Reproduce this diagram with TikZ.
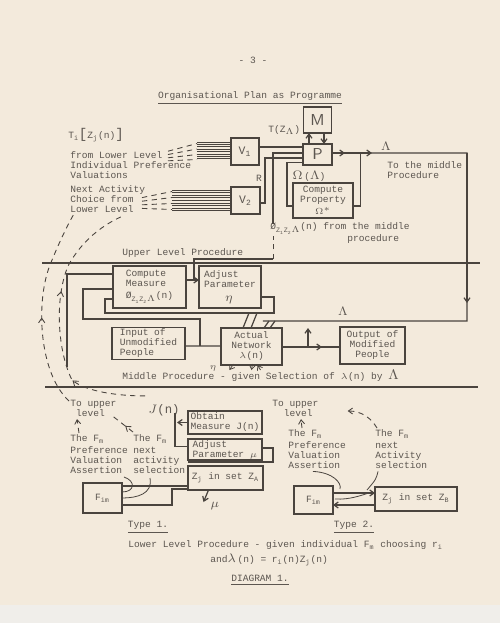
\documentclass[tikz,border=0pt]{standalone}
\usepackage{fontspec}
\setmainfont{Liberation Mono}
\usepackage{tikz}
\usetikzlibrary{calc}
\usetikzlibrary{arrows.meta,decorations.markings}
\definecolor{paper}{RGB}{243,234,220}
\definecolor{scanedge}{RGB}{240,238,234}
\definecolor{ink}{RGB}{74,68,62}
\definecolor{typed}{RGB}{92,86,80}
\newcommand{\subt}[1]{\textsubscript{#1}}
\newcommand{\hand}[1]{{\fontsize{7}{7}\selectfont$#1$}}

\begin{document}
\begin{tikzpicture}[x=0.02cm,y=-0.02cm,>=Stealth, every node/.style={font=\fontsize{5.45}{5.7}\selectfont,text=typed,inner sep=0pt}]
    \tikzset{box/.style={draw=ink,line width=0.8pt,outer sep=0pt,align=center}}
    \tikzset{wire/.style={draw=ink,line width=0.7pt}}
    \tikzset{fine/.style={draw=ink,line width=0.45pt}}
    \tikzset{dashline/.style={draw=ink,line width=0.5pt,dash pattern=on 3pt off 2.5pt}}
    \tikzset{arrowend/.style={-{Straight Barb[length=2.4pt,width=3.4pt]}}}
    \tikzset{midtip/.style={postaction={decorate,decoration={markings,mark=at position #1 with {\arrow{Straight Barb[length=2.6pt,width=3.6pt]}}}}}}
    \tikzset{txt/.style={anchor=north west,align=left}}

    % paper
    \fill[paper] (0,0) rectangle (500,605);
    \fill[scanedge] (0,605) rectangle (500,623);
    \useasboundingbox (0,0) rectangle (500,623);

    % heading
    \node (page) at (253,60) {- 3 -};
    \node (title) at (250,98) {\underline{Organisational Plan as Programme}};

    % Upper level: texts, boxes
    \node[anchor=west] (tval) at (68,135) {T\subt{i}{\fontsize{8}{8}\selectfont[}Z\subt{j}(n){\fontsize{8}{8}\selectfont]}};
    \node[txt] (lowval) at (70,151) {from Lower Level\\Individual Preference\\Valuations};
    \node[txt] (lowact) at (70,185) {Next Activity\\Choice from\\Lower Level};
    \node[box,minimum width=0.56cm,minimum height=0.54cm,font=\fontsize{6.5}{6.5}\selectfont] (v1) at (245,151.5) {V\subt{1}};
    \node[box,minimum width=0.58cm,minimum height=0.54cm,font=\fontsize{6.5}{6.5}\selectfont] (v2) at (245.5,200.5) {V\subt{2}};
    \node[box,minimum width=0.56cm,minimum height=0.52cm,font=\sffamily\fontsize{9}{9}\selectfont] (m) at (317.5,120) {M};
    \node[box,minimum width=0.58cm,minimum height=0.42cm,font=\sffamily\fontsize{9}{9}\selectfont] (p) at (317.5,154.5) {P};
    \node[box,minimum width=1.2cm,minimum height=0.7cm] (cprop) at (323,200.5) {Compute\\Property\\[1pt]$\Omega^{*}$};
    \node[anchor=west] (tz) at (268,130) {T(Z\subt{$\Lambda$})};
    \node (rmark) at (259,178) {R};
    \node (omlab) at (309,176) {\hand{\Omega}\,(\hand{\Lambda})};
    \node (lamtop) at (386,146) {\hand{\Lambda}};
    \node[txt] (tomid) at (387,161) {To the middle\\Procedure};
    \node[anchor=west] (phitxt) at (270,228.5) {Ø\subt{Z\subt{1}Z\subt{2}$\Lambda$}(n) from the middle};
    \node[anchor=west] (proc) at (347,239) {procedure};

    % Middle level
    \node[anchor=west] (upper) at (122,253) {Upper Level Procedure};
    \node[box,align=left,minimum width=1.46cm,minimum height=0.84cm] (cm) at (149.5,287) {Compute\\Measure\\[1pt]Ø\subt{Z\subt{1}Z\subt{2}$\Lambda$}(n)};
    \node[box,align=left,minimum width=1.24cm,minimum height=0.84cm] (adj) at (230,287) {Adjust\\Parameter\\[2pt]\hspace*{2.2em}{\fontsize{7}{7}\selectfont$\eta$}};
    \node[box,align=left,minimum width=1.46cm,minimum height=0.64cm] (inp) at (148.5,343.5) {Input of\\Unmodified\\People};
    \node[box,minimum width=1.22cm,minimum height=0.74cm] (net) at (251.5,346.5) {Actual\\Network\\$\lambda$(n)};
    \node[box,minimum width=1.3cm,minimum height=0.74cm] (outp) at (372.5,345.5) {Output of\\Modified\\People};
    \node (lammid) at (343,311) {\hand{\Lambda}};
    \node (etamark) at (213,368) {$\eta$};
    \node[anchor=west] (midproc) at (122,376) {Middle Procedure - given Selection of $\lambda$(n) by {\fontsize{8.5}{8.5}\selectfont$\Lambda$}};

    % Lower level, type 1
    \node[box,align=left,minimum width=1.48cm,minimum height=0.46cm] (obt) at (225,422.5) {Obtain\\Measure J(n)};
    \node[box,align=left,minimum width=1.48cm,minimum height=0.42cm] (adjmu) at (225,449.5) {Adjust\\Parameter $\mu$};
    \node[box,minimum width=1.5cm,minimum height=0.48cm] (za) at (225.5,478) {Z\subt{j} in set Z\subt{A}};
    \node[box,minimum width=0.78cm,minimum height=0.6cm] (fim1) at (102.5,498) {F\subt{im}};
    \node (jmark) at (164,410) {{\fontsize{7}{7}\selectfont$J$(n)}};
    \node (mumark) at (215,506) {\hand{\mu}};
    \node[txt] (up1) at (70,400) {To upper\\\hspace*{0.6em}level};
    \node[txt] (val1) at (70,434) {The F\subt{m}\\[1.5pt]Preference\\Valuation\\Assertion};
    \node[txt] (nxt1) at (133,434) {The F\subt{m}\\[1.5pt]next\\activity\\selection};
    \node (type1) at (148,527) {\underline{Type 1.}};

    % Lower level, type 2
    \node[box,minimum width=0.78cm,minimum height=0.56cm] (fim2) at (313.5,500) {F\subt{im}};
    \node[box,minimum width=1.64cm,minimum height=0.48cm] (zb) at (416,499) {Z\subt{j} in set Z\subt{B}};
    \node[txt] (up2) at (272,400) {To upper\\\hspace*{1.2em}level};
    \node[txt] (val2) at (288,429) {The F\subt{m}\\[1.5pt]Preference\\Valuation\\Assertion};
    \node[txt] (nxt2) at (375,429) {The F\subt{m}\\[1.5pt]next\\Activity\\selection};
    \node (type2) at (354,527) {\underline{Type 2.}};

    % caption
    \node[anchor=west] (lowproc) at (128,545) {Lower Level Procedure - given individual F\subt{m} choosing r\subt{i}};
    \node[anchor=west] (lamdef) at (210,560) {and\hand{\lambda}\,(n) = r\subt{i}(n)Z\subt{j}(n)};
    \node (diag) at (260,580) {\underline{DIAGRAM 1.}};

    % level boundaries
    \draw[wire] (42,263) -- (480,263);
    \draw[wire] (45,387) -- (478,387);

    % bundles into V1 and V2
    \coordinate (valfan) at ($(lowval.north west)+(98,5)$);
    \coordinate (actfan) at ($(lowact.north west)+(72,18)$);
    \foreach \k in {0,...,7}
      \draw[wire,line width=0.45pt] ($(v1.west)+(-34,-9.5+2.4*\k)$) -- ($(v1.west)+(0,-9.5+2.4*\k)$);
    \foreach \k in {0,...,8}
      \draw[wire,line width=0.45pt] ($(v2.west)+(-59,-10.5+2.6*\k)$) -- ($(v2.west)+(0,-10.5+2.6*\k)$);
    \foreach \d in {-8,-2.5,3,8}
      \draw[dashline] ($(valfan)+(0,0.6*\d)$) -- ($(v1.west)+(-34,\d)$);
    \foreach \d in {-9,-3,3,9}
      \draw[dashline] ($(actfan)+(0,0.6*\d)$) -- ($(v2.west)+(-59,\d)$);

    % P with M, inputs
    \draw[wire,arrowend] ($(p.north)+(-8.5,0)$) -- ($(m.south)+(-8.5,0)$);
    \draw[wire,arrowend] ($(m.south)+(6.5,0)$) -- ($(p.north)+(6.5,0)$);
    \draw[wire] ($(v1.east)+(0,-4.5)$) coordinate (v1out) -- (v1out -| p.west);
    \draw[wire] ($(v2.east)+(0,2.5)$) -- ++(5,0) |- ($(p.west)+(0,3.5)$);
    \draw[wire] ($(p.west)+(0,-1.5)$) -| ($(phitxt.west)+(3,-5)$);
    \draw[wire] ($(cprop.west)+(0,5.5)$) -- ++(-6,0) |- ($(p.west)+(0,8)$);

    % Lambda to the middle procedure
    \draw[wire] ($(p.east)+(0,-1.5)$) coordinate (pout) -- (467,153) coordinate (lamturn) -- (467,321) -- ($(net.north east)+(-19,-7)$);
    \draw[wire,arrowend] (pout) -- ++(13,0);
    \draw[wire,arrowend] (pout) -- ++(40,0);
    \draw[wire] ($(cprop.east)+(0,5.5)$) -| ($(pout)+(28.5,0)$);
    \draw[wire,arrowend] (lamturn) -- ++(0,150);
    \foreach \s in {-18,-12}
      \draw[wire] ($(net.north east)+(\s+5,-7)$) -- ($(net.north east)+(\s,0)$);

    % measure, parameter and network
    \coordinate (phijoin) at ($(phitxt.west)+(3,30.5)$);
    \draw[wire,arrowend] ($(cm.east)+(0,-7)$) -- ($(adj.west)+(0,-7)$);
    \draw[wire] ($(cm.east)+(8,-7)$) |- (phijoin);
    \draw[dashline] (phijoin) -- ($(phitxt.west)+(3,7)$);
    \draw[wire] ($(adj.east)+(0,10)$) -- ++(13,0) |- ($(cm.west)+(-8,26)$) -- ($(cm.west)+(-8,12)$) -- ($(cm.west)+(0,12)$);
    \foreach \s in {22,30}
      \draw[wire] ($(net.north west)+(\s+6,-15)$) -- ($(net.north west)+(\s,0)$);
    \draw[wire] ($(cm.west)+(0,2)$) -- ++(-30,0) -- ++(0,30) -| ($(inp.east)+(15,2.5)$);
    \draw[wire] ($(inp.east)+(0,2.5)$) -- ($(net.west)+(0,-0.5)$);
    \draw[wire] ($(cm.west)+(0,-13)$) -- ++(-46,0) -- ++(0,93);
    \draw[wire] ($(net.east)+(0,0.5)$) coordinate (netout) -- ($(outp.west)+(0,1.5)$);
    \draw[wire,arrowend] (netout) -- ++(40,0);
    \draw[wire,arrowend] ($(netout)+(26,0)$) -- ++(0,-19);
    \draw[fine,arrowend] ($(net.south)+(-18,-1)$) -- ++(-4,6);
    \draw[fine,arrowend] ($(net.south)+(1,-1)$) -- ++(-1,6);
    \draw[fine,arrowend] ($(net.south)+(9,5)$) -- ++(-3,-5);

    % type 1 connections
    \draw[wire,arrowend] (obt.west) -- ++(-11,0);
    \draw[wire] ($(obt.west)+(-13,-10)$) |- ($(adjmu.west)+(0,-3)$);
    \draw[wire] ($(adjmu.east)+(0,-1.5)$) -- ++(11,0) |- ($(adjmu.south west)+(0,2)$);
    \draw[wire,arrowend] ($(za.south)+(-17,0)$) -- ++(-5,12);
    \draw[wire] ($(fim1.east)+(0,-12)$) -- ($(za.west)+(0,8)$);
    \draw[wire] ($(fim1.east)+(0,7)$) -| ($(za.west)+(-16,11)$) -- ($(za.west)+(0,11)$);
    \draw[fine] ($(fim1.east)+(2,-21)$) .. controls +(12,4) and +(13,0) .. ($(fim1.east)+(0,-6)$);
    \draw[fine] ($(fim1.east)+(28,-20)$) .. controls +(3,16) and +(15,0) .. (fim1.east);

    % type 2 connections
    \draw[wire,arrowend] ($(fim2.east)+(0,-7)$) -- ($(zb.west)+(0,-6)$);
    \draw[wire,arrowend] ($(zb.west)+(0,6)$) -- ($(fim2.east)+(0,5)$);
    \draw[fine] ($(fim2.east)+(2,-1)$) .. controls +(15,1) and +(-10,3) .. ($(zb.west)+(-3,-7)$);
    \draw[fine] ($(val2.south west)+(25,2)$) .. controls +(20,1) and +(2,-6) .. ($(fim2.east)+(7,-11)$);
    \draw[fine] ($(nxt2.south west)+(3,2)$) .. controls +(-2,8) .. ($(zb.west)+(-8,-9)$);

    % dashed feedback to the upper level
    \draw[dashline,midtip=0.45] ($(up1.north west)+(-1,1)$) .. controls (38,372) and (36,300) .. (50,265) .. controls (58,245) and (66,228) .. ($(lowact.south west)+(4,1)$);
    \draw[dashline,midtip=0.28,midtip=0.62] ($(jmark.north west)+(-3,-8)$) .. controls (120,396) and (86,392) .. (72,380) .. controls (58,352) and (54,300) .. (68,266) .. controls (82,240) and (104,224) .. ($(lowact.south east)+(-22,3)$);
    \draw[dashline,arrowend] ($(val1.north west)+(9,-1)$) -- ($(up1.south west)+(7,2)$);
    \draw[dashline,midtip=0.35] ($(nxt1.north west)+(0,-2)$) -- ($(up1.east)+(-6,6)$);
    \draw[dashline,arrowend] ($(val2.north west)+(14,-1)$) -- ($(up2.south west)+(29,2)$);
    \draw[dashline,arrowend] ($(nxt2.north west)+(2,-1)$) .. controls +(-6,-10) and +(14,0) .. ($(up2.north east)+(29,11)$);
\end{tikzpicture}
\end{document}
